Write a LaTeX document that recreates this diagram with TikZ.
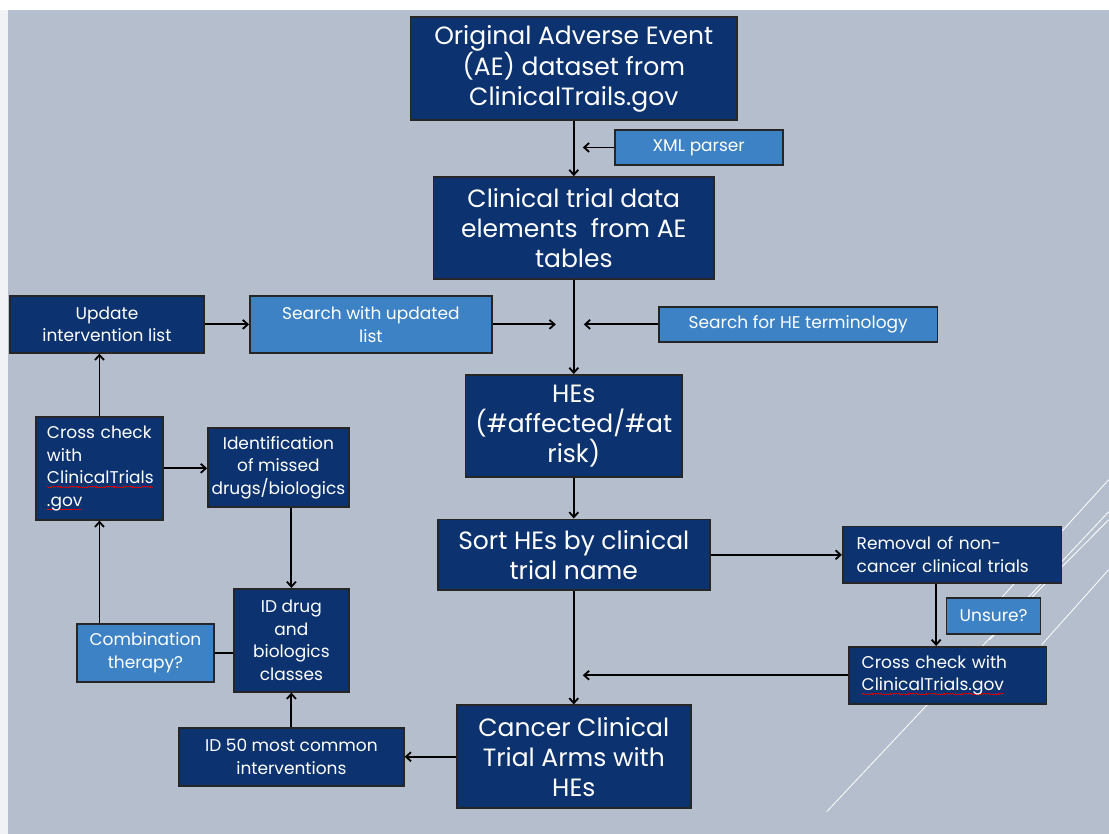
\documentclass[tikz,border=0pt]{standalone}
\usepackage{fontspec}
\setmainfont{Poppins}
\usetikzlibrary{arrows.meta}
\definecolor{slide}{HTML}{B4BECD}
\definecolor{navy}{HTML}{0C3370}
\definecolor{sky}{HTML}{3D82C4}
\newsavebox\wavebox
\newcommand\spellwave[1]{\leavevmode\sbox\wavebox{#1}\hbox{\rlap{\color{red!85!black}\raisebox{-4pt}{\hbox to \wd\wavebox{\leaders\hbox{\raisebox{0.7pt}{\rule{0.9pt}{0.7pt}}\rule{0.9pt}{0.7pt}}\hfill}}}\usebox\wavebox}}
\begin{document}
\begin{tikzpicture}[x=1pt, y=-1pt,
	box/.style={draw=black!85, line width=1.6pt, fill=navy, text=white, inner sep=0pt, align=center},
	lite/.style={box, fill=sky},
	big/.style={font=\fontsize{25}{30}\selectfont},
	small/.style={font=\fontsize{17}{22.5}\selectfont},
	link/.style={line width=1.8pt, -{Straight Barb[length=5pt,width=9pt]}}]
			\fill[slide] (0,0) rectangle (1109,834);
			\fill[white] (0,0) rectangle (1109,10);
			\fill[white!80!slide] (0,10) rectangle (8,834);
			\draw[white, line width=0.8pt] (827,812) -- (1109,512);
			\draw[white, line width=0.8pt] (1000,600) -- (1109,480);
			\draw[white, line width=0.8pt] (990,640) -- (1109,520);
			\draw[white, line width=0.8pt] (1042,645) -- (1109,570);
			\node[box, big, minimum width=327, minimum height=103] (orig) at (574, 68.5) {Original Adverse Event\\(AE) dataset from\\ClinicalTrails.gov};
			\node[lite, small, minimum width=168, minimum height=35] (xml) at (699, 147.5) {XML parser};
			\node[box, big, minimum width=281, minimum height=102] (data) at (574, 228) {Clinical trial data\\elements\ \ from AE\\tables};
			\node[box, small, minimum width=194, minimum height=57] (upd) at (107, 324.5) {Update\\intervention list};
			\node[lite, small, minimum width=242, minimum height=57] (search) at (371, 324.5) {Search with updated\\list};
			\node[lite, small, minimum width=279, minimum height=35] (term) at (798.5, 324.5) {Search for HE terminology};
			\node[box, big, minimum width=217, minimum height=102] (hes) at (574, 426) {HEs\\(\#affected/\#at\\risk)};
			\node[box, small, minimum width=127, minimum height=103, text width=105, align=left] (cross) at (99.5, 468.5) {Cross~check\\with\\\spellwave{ClinicalTrials}\\\spellwave{.gov}};
			\node[box, small, minimum width=141, minimum height=79] (ident) at (278.5, 467.5) {Identification\\of missed\\drugs/biologics};
			\node[box, big, minimum width=272, minimum height=71] (sort) at (574, 555) {Sort HEs by clinical\\trial name};
			\node[box, small, minimum width=219, minimum height=57, text width=191, align=left] (removal) at (952.5, 555) {Removal of non-\\cancer clinical trials};
			\node[lite, small, minimum width=94, minimum height=36] (unsure) at (994, 616) {Unsure?};
			\node[box, small, minimum width=198, minimum height=57, text width=172, align=left] (recheck) at (948, 675.5) {Cross check with\\\spellwave{ClinicalTrials.gov}};
			\node[box, small, minimum width=115, minimum height=103] (classes) at (291.5, 640.5) {ID drug\\and\\biologics\\classes};
			\node[lite, small, minimum width=137, minimum height=58] (combo) at (145.5, 653) {Combination\\therapy?};
			\node[box, small, minimum width=225, minimum height=58] (top50) at (291.5, 757) {ID 50 most common\\interventions};
			\node[box, big, minimum width=234, minimum height=103] (arms) at (574, 757) {Cancer Clinical\\Trial Arms with\\HEs};
			\coordinate (xmlend) at (583, 147.5);
			\coordinate (searchend) at (556, 324.5);
			\coordinate (termend) at (584, 324.5);
			\coordinate (recheckend) at (583, 675.5);
			\draw[link] (orig) -- (data);
			\draw[link] (xml) -- (xmlend);
			\draw[link] (data) -- (hes);
			\draw[link] (search) -- (searchend);
			\draw[link] (term) -- (termend);
			\draw[link] (hes) -- (sort);
			\draw[link] (sort) -- (arms);
			\draw[link] (sort) -- (removal);
			\draw[link] ([xshift=-16pt]removal.south) -- ([xshift=-16pt]removal.south |- recheck.north);
			\draw[link] (recheck) -- (recheckend);
			\draw[link] (arms) -- (top50);
			\draw[link] (top50) -- (classes);
			\draw[link] (ident.south -| classes.north) -- (classes.north);
			\draw[line width=1.8pt] (combo.east) -- (combo.east -| classes.west);
			\draw[link] (combo.north -| cross.south) -- (cross.south);
			\draw[link] (cross.north) -- (cross.north |- upd.south);
			\draw[link] (cross.east) -- (cross.east -| ident.west);
			\draw[link] (upd) -- (search);
		\end{tikzpicture}
\end{document}
